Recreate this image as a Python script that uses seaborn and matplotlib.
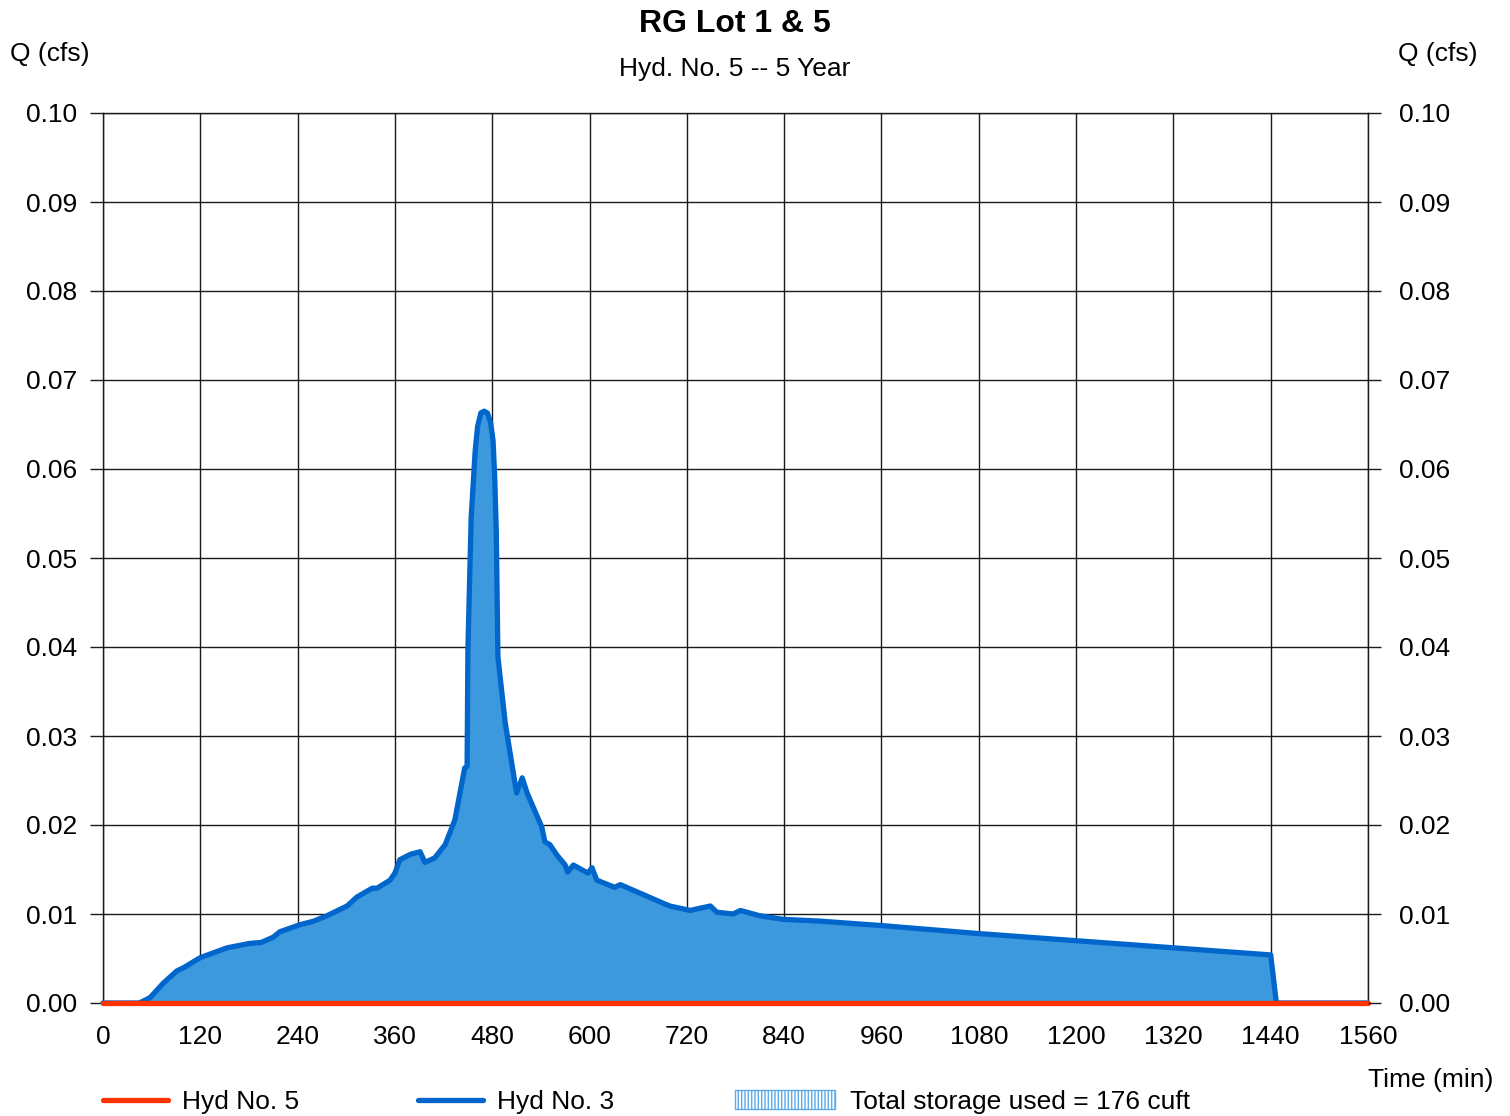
import matplotlib
matplotlib.use("Agg")
import matplotlib.pyplot as plt
from matplotlib.lines import Line2D
from matplotlib.patches import Patch
import numpy as np
import pandas as pd
import seaborn as sns

# Hydrograph ordinates (time in minutes, flow in cfs)
hyd3_time = [0, 45, 58, 74, 91, 100, 120, 153, 181, 195, 210, 218, 243, 260, 276,
             301, 313, 332, 338, 354, 360, 366, 379, 391, 397, 409, 422, 434, 446,
             449, 450, 454, 459, 462, 466, 470, 474, 478, 481, 483, 485, 487, 496,
             510, 517, 523, 541, 545, 551, 560, 570, 573, 580, 598, 603, 609, 631,
             638, 691, 699, 724, 749, 757, 777, 786, 810, 839, 884, 960, 1080, 1200,
             1320, 1440, 1447, 1560]
hyd3_flow = [0.0, 0.0, 0.0006, 0.0022, 0.0036, 0.0040, 0.0051, 0.0062, 0.0067,
             0.0068, 0.0074, 0.0080, 0.0088, 0.0092, 0.0098, 0.0109, 0.0119, 0.0129,
             0.0129, 0.0138, 0.0146, 0.0161, 0.0167, 0.0170, 0.0158, 0.0163, 0.0178,
             0.0206, 0.0264, 0.0266, 0.0397, 0.0545, 0.0621, 0.0648, 0.0663, 0.0665,
             0.0663, 0.0652, 0.0632, 0.0592, 0.0530, 0.0389, 0.0315, 0.0236, 0.0253,
             0.0236, 0.0198, 0.0181, 0.0178, 0.0166, 0.0155, 0.0147, 0.0155, 0.0146,
             0.0152, 0.0138, 0.0130, 0.0133, 0.0112, 0.0109, 0.0104, 0.0109, 0.0102,
             0.0100, 0.0104, 0.0098, 0.0094, 0.0092, 0.0087, 0.0078, 0.0070, 0.0062,
             0.0054, 0.0, 0.0]

hyd5_time = [0, 1560]
hyd5_flow = [0.0, 0.0]

x_ticks = list(range(0, 1561, 120))
y_ticks = [0.00, 0.01, 0.02, 0.03, 0.04, 0.05, 0.06, 0.07, 0.08, 0.09, 0.10]

title = "RG Lot 1 & 5"
subtitle = "Hyd. No. 5 -- 5 Year"
storage_label = "Total storage used = 176 cuft"

sns.set_style("white")
plt.rcParams["font.family"] = ["Liberation Sans", "DejaVu Sans"]
plt.rcParams["text.color"] = "black"
plt.rcParams["xtick.color"] = "black"
plt.rcParams["ytick.color"] = "black"

FS = 19
inflow_line = "#0066cc"
inflow_fill = "#3d99de"
outflow_line = "#ff3300"
grid_col = "#1a1a1a"

fig = plt.figure(figsize=(15.10, 11.16), dpi=100)
ax = fig.add_axes([103 / 1510, 113 / 1116, 1265 / 1510, 890 / 1116])

df3 = pd.DataFrame({"time": hyd3_time, "flow": hyd3_flow})
df5 = pd.DataFrame({"time": hyd5_time, "flow": hyd5_flow})

ax.fill_between(df3["time"], 0, df3["flow"], color=inflow_fill, lw=0, zorder=2)
sns.lineplot(data=df3, x="time", y="flow", ax=ax, color=inflow_line, lw=3.8,
             sort=False, estimator=None, zorder=3, solid_joinstyle="round",
             clip_on=False)
sns.lineplot(data=df5, x="time", y="flow", ax=ax, color=outflow_line, lw=3.8,
             sort=False, estimator=None, zorder=4, clip_on=False)

ax.set_xlim(0, 1560)
ax.set_ylim(0, 0.10)
ax.set_xticks(x_ticks)
ax.set_xticklabels([str(t) for t in x_ticks])
ax.set_yticks(y_ticks)
ax.set_yticklabels([f"{v:.2f}" for v in y_ticks])
ax.set_xlabel("")
ax.set_ylabel("")
ax.grid(True, color=grid_col, lw=1.0, zorder=1)
ax.set_axisbelow(True)
for s in ax.spines.values():
    s.set_color(grid_col)
    s.set_linewidth(1.0)
ax.tick_params(axis="x", length=0, pad=16, labelsize=FS, labelcolor="black")
ax.tick_params(axis="y", left=True, length=9.5, width=1.0, direction="out",
               color=grid_col, pad=9, labelsize=FS, labelcolor="black")

ax2 = ax.twinx()
ax2.set_ylim(0, 0.10)
ax2.set_yticks(y_ticks)
ax2.set_yticklabels([f"{v:.2f}" for v in y_ticks])
ax2.tick_params(axis="y", right=True, length=9.5, width=1.0, direction="out",
                color=grid_col, pad=13, labelsize=FS, labelcolor="black")
for s in ax2.spines.values():
    s.set_visible(False)
ax2.grid(False)

fig.text(735 / 1510, 1 - 24 / 1116, title, ha="center", va="center",
         fontsize=23, fontweight="bold")
fig.text(735 / 1510, 1 - 69 / 1116, subtitle, ha="center", va="center", fontsize=FS)
fig.text(10 / 1510, 1 - 54 / 1116, "Q (cfs)", ha="left", va="center", fontsize=FS)
fig.text(1478 / 1510, 1 - 54 / 1116, "Q (cfs)", ha="right", va="center", fontsize=FS)
fig.text(1493 / 1510, 1 - 1080 / 1116, "Time (min)", ha="right", va="center",
         fontsize=FS)

legend_y = 1 - 1102 / 1116
items = [
    (103, Line2D([], [], color=outflow_line, lw=3.8), "Hyd No. 5", 2.45),
    (418, Line2D([], [], color=inflow_line, lw=3.8), "Hyd No. 3", 2.45),
    (735, Patch(facecolor="white", edgecolor="#5aaaea", hatch="|||||", lw=1.0),
     storage_label, 3.8),
]
for xpx, handle, label, hl in items:
    fig.legend([handle], [label], loc="center left",
               bbox_to_anchor=(xpx / 1510, legend_y), frameon=False,
               fontsize=FS, handlelength=hl, handletextpad=0.55,
               borderpad=0, borderaxespad=0, handleheight=0.75)

fig.savefig("out.png", dpi=100)
